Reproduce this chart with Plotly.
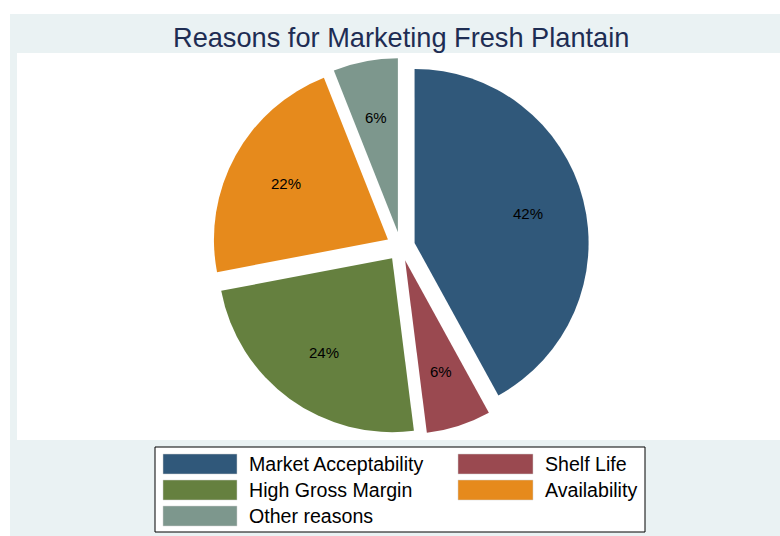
import math
import plotly.graph_objects as go

# Survey shares for the reasons given for marketing fresh plantain
reasons = ["Market Acceptability", "Shelf Life", "High Gross Margin", "Availability", "Other reasons"]
shares = [42, 6, 24, 22, 6]
colors = ["#30587A", "#9A4950", "#65803F", "#E68A1C", "#7D978D"]

W, H = 780, 536
FONT = "Liberation Sans, Arial, sans-serif"


def px(x):
    return x / W


def py(y):
    return 1 - y / H


# pie geometry (pixels): centre, radius and explode fraction
CX, CY, R = 400.6, 246.5, 174.0
PULL = 0.083
half = R * (1 + PULL)

fig = go.Figure()

fig.add_trace(go.Pie(
    labels=reasons,
    values=shares,
    sort=False,
    direction="clockwise",
    rotation=0,
    pull=[PULL] * len(shares),
    marker=dict(colors=colors, line=dict(width=0)),
    textinfo="none",
    hoverinfo="label+percent",
    showlegend=False,
    domain=dict(x=[px(CX - half), px(CX + half)], y=[py(CY + half), py(CY - half)]),
))

shapes = [
    # outer graph region
    dict(type="rect", xref="paper", yref="paper", x0=px(10), x1=1, y0=0, y1=py(14),
         fillcolor="#EAF2F3", line=dict(width=0), layer="below"),
    # plot region
    dict(type="rect", xref="paper", yref="paper", x0=px(17), x1=1, y0=py(440), y1=py(53),
         fillcolor="white", line=dict(width=0), layer="below"),
    # legend box
    dict(type="rect", xref="paper", yref="paper", x0=px(155), x1=px(645), y0=py(532), y1=py(447),
         fillcolor="white", line=dict(color="black", width=1), layer="below"),
]

annotations = [
    dict(text="Reasons for Marketing Fresh Plantain", x=px(401), y=py(37), xref="paper", yref="paper",
         xanchor="center", yanchor="middle", showarrow=False,
         font=dict(family=FONT, size=27.2, color="#1E2D53")),
]

# percentage labels placed along each slice's bisector
total = sum(shares)
cum = 0.0
for v in shares:
    theta = 2 * math.pi * (cum + v / 2) / total
    cum += v
    dist = PULL * R + 0.67 * R
    lx = CX + dist * math.sin(theta)
    ly = CY - dist * math.cos(theta)
    annotations.append(dict(text=f"{round(100 * v / total)}%", x=px(lx), y=py(ly),
                            xref="paper", yref="paper", xanchor="center", yanchor="middle",
                            showarrow=False, font=dict(family=FONT, size=15, color="black")))

# two-column legend, filled row by row
col_swatch = [(163, 237), (458, 533)]
col_text = [247, 543]
row_y = [464, 490, 516]
for i, (name, col) in enumerate(zip(reasons, colors)):
    r, c = divmod(i, 2)
    x0, x1 = col_swatch[c]
    yc = row_y[r]
    shapes.append(dict(type="rect", xref="paper", yref="paper", x0=px(x0), x1=px(x1),
                       y0=py(yc + 10), y1=py(yc - 10), fillcolor=col,
                       line=dict(color="#D0D0D0", width=0.5)))
    annotations.append(dict(text=name, x=px(col_text[c]), y=py(yc), xref="paper", yref="paper",
                            xanchor="left", yanchor="middle", showarrow=False,
                            font=dict(family=FONT, size=19.6, color="black")))

fig.update_layout(
    width=W, height=H,
    margin=dict(l=0, r=0, t=0, b=0),
    paper_bgcolor="white",
    plot_bgcolor="white",
    shapes=shapes,
    annotations=annotations,
)

fig.write_html("out.html")
